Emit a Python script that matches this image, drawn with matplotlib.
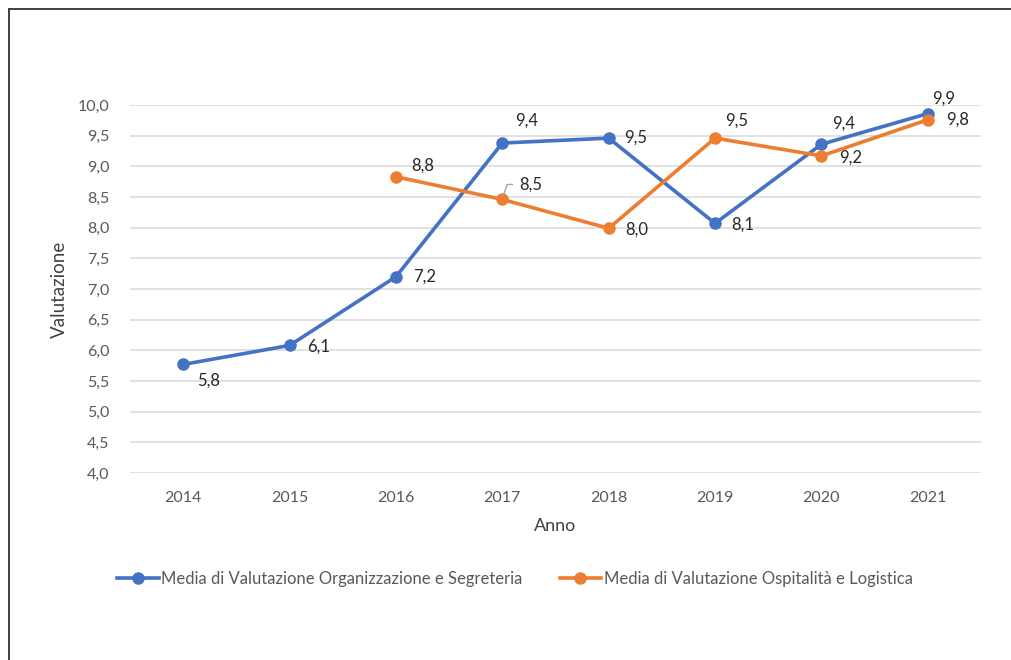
import matplotlib
matplotlib.use("Agg")
import matplotlib.pyplot as plt
from matplotlib.lines import Line2D

years = ["2014", "2015", "2016", "2017", "2018", "2019", "2020", "2021"]
org_values = [5.77, 6.08, 7.20, 9.38, 9.46, 8.07, 9.36, 9.86]
osp_years = ["2016", "2017", "2018", "2019", "2020", "2021"]
osp_values = [8.83, 8.46, 7.99, 9.46, 9.17, 9.76]
y_ticks = [4.0, 4.5, 5.0, 5.5, 6.0, 6.5, 7.0, 7.5, 8.0, 8.5, 9.0, 9.5, 10.0]
org_name = "Media di Valutazione Organizzazione e Segreteria"
osp_name = "Media di Valutazione Ospitalità e Logistica"

plt.rcParams['font.family'] = ['Lato', 'DejaVu Sans']
BLUE = "#4472C4"
ORANGE = "#ED7D31"
TXT = "#595959"

fig = plt.figure(figsize=(10.12, 6.60), dpi=100)
ax = fig.add_axes([130/1012, 1-473/660, (981-130)/1012, (473-105)/660])

xs_org = list(range(len(years)))
xs_osp = [years.index(y) for y in osp_years]

ax.plot(xs_org, org_values, color=BLUE, lw=2.6, marker='o', ms=8, zorder=3, label=org_name)
ax.plot(xs_osp, osp_values, color=ORANGE, lw=2.6, marker='o', ms=8, zorder=4, label=osp_name)

ax.set_xlim(-0.5, len(years)-0.5)
ax.set_ylim(4.0, 10.0)
ax.set_yticks(y_ticks)
ax.set_yticklabels([f"{v:.1f}".replace('.', ',') for v in y_ticks])
ax.set_xticks(xs_org)
ax.set_xticklabels(years)
ax.tick_params(axis='both', length=0, labelsize=11.5, colors=TXT)
ax.tick_params(axis='x', pad=13)
ax.tick_params(axis='y', pad=15)
ax.grid(axis='y', color='#d9d9d9', lw=1.1)
ax.set_axisbelow(True)
for s in ax.spines.values():
    s.set_visible(False)

ax.set_ylabel("Valutazione", fontsize=13.5, color='#404040', labelpad=7)
ax.set_xlabel("Anno", fontsize=13, color='#404040', labelpad=9)

def fmt(v):
    return f"{v:.1f}".replace('.', ',')

org_off = [(25, -16), (29, -1), (29, 0), (24, 22), (27, 0), (28, -1), (22, 21), (16, 15)]
osp_off = [(27, 11), (28, 15), (28, -1), (22, 17), (29, -2), (30, 0)]
for x, v, o in zip(xs_org, org_values, org_off):
    ax.annotate(fmt(v), (x, v), xytext=o, textcoords='offset pixels',
                ha='center', va='center', fontsize=12, color='#262626')
for x, v, o in zip(xs_osp, osp_values, osp_off):
    ax.annotate(fmt(v), (x, v), xytext=o, textcoords='offset pixels',
                ha='center', va='center', fontsize=12, color='#262626')

# leader line for 2017 orange label
x17 = years.index("2017")
v17 = osp_values[osp_years.index("2017")]
px, py = ax.transData.transform((x17, v17))
pts = [(px + 1, py + 4), (px + 5, py + 15), (px + 10, py + 15)]
fig_pts = [fig.transFigure.inverted().transform(p) for p in pts]
fig.add_artist(Line2D([p[0] for p in fig_pts], [p[1] for p in fig_pts],
                      color='#a6a6a6', lw=1.0))

leg = fig.legend(loc='center', bbox_to_anchor=(515/1012, 1-579/660), ncol=2,
                 frameon=False, fontsize=12, handlelength=2.5, columnspacing=2.2,
                 handletextpad=0.15)
for t in leg.get_texts():
    t.set_color(TXT)

# outer frame (left & top visible)
fig.add_artist(Line2D([9/1012, 9/1012], [0, 1-9/660], color='#404040', lw=1.4))
fig.add_artist(Line2D([9/1012, 1], [1-9/660, 1-9/660], color='#404040', lw=1.4))

fig.savefig("out.png", dpi=100)
